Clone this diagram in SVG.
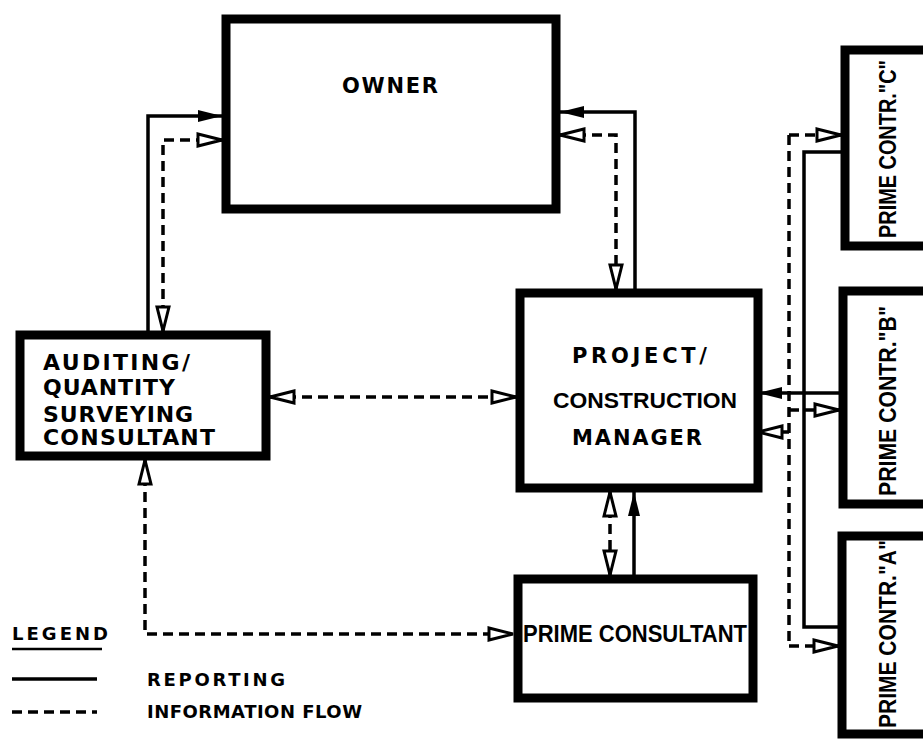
<svg xmlns="http://www.w3.org/2000/svg" width="923" height="739" viewBox="0 0 923 739">
<style>
.box{fill:#fff;stroke:#000;stroke-width:9}
.t{font-family:"DejaVu Sans","Liberation Sans",sans-serif;font-weight:bold;fill:#000}
.n{font-family:"Liberation Sans",Arial,sans-serif;font-weight:bold;fill:#000}
.sol{fill:none;stroke:#000;stroke-width:3.5}
.dsh{fill:none;stroke:#000;stroke-width:3.5;stroke-dasharray:10 6}
</style>
<defs>
<marker id="open" viewBox="0 0 28 16" refX="26" refY="8" markerWidth="28" markerHeight="16" markerUnits="userSpaceOnUse" orient="auto-start-reverse">
<path d="M2,2 L26,8 L2,14 Z" fill="#fff" stroke="#000" stroke-width="3"/>
</marker>
<marker id="fill" viewBox="0 0 24 14" refX="24" refY="7" markerWidth="24" markerHeight="14" markerUnits="userSpaceOnUse" orient="auto-start-reverse">
<path d="M0,1 L24,7 L0,13 Z" fill="#000"/>
</marker>
</defs>

<g id="connectors">
<path class="sol" d="M148,331 V116 H222" marker-end="url(#fill)"/>
<path class="dsh" d="M222,140 H163 V331" marker-start="url(#open)" marker-end="url(#open)"/>
<path class="sol" d="M635,289 V112 H560" marker-end="url(#fill)"/>
<path class="dsh" d="M560,135 H616 V289" marker-start="url(#open)" marker-end="url(#open)"/>
<path class="dsh" d="M270,397 H516" marker-start="url(#open)" marker-end="url(#open)"/>
<path class="dsh" d="M145,460 V634 H513" marker-start="url(#open)" marker-end="url(#open)"/>
<path class="dsh" d="M610,492 V575" marker-start="url(#open)" marker-end="url(#open)"/>
<path class="sol" d="M634,575 V492" marker-end="url(#fill)"/>
<path class="sol" d="M841,152 H804 V627 H838"/>
<path class="sol" d="M839,393 H758" marker-end="url(#fill)"/>
<path class="dsh" d="M789,135 V646"/>
<path class="dsh" d="M789,135 H841" marker-end="url(#open)"/>
<path class="dsh" d="M789,410 H839" marker-end="url(#open)"/>
<path class="dsh" d="M789,646 H838" marker-end="url(#open)"/>
<path class="dsh" d="M789,432 H758" marker-end="url(#open)"/>
</g>

<g id="owner">
<rect class="box" x="226" y="19" width="330" height="190"/>
<text class="t" x="342" y="93" font-size="21" textLength="96" lengthAdjust="spacing">OWNER</text>
</g>

<g id="auditing">
<rect class="box" x="20" y="335" width="246" height="121"/>
<text class="t" font-size="22" x="43" y="370" textLength="147" lengthAdjust="spacing">AUDITING/</text>
<text class="t" font-size="22" x="43" y="395" textLength="132" lengthAdjust="spacing">QUANTITY</text>
<text class="t" font-size="22" x="43" y="422" textLength="150" lengthAdjust="spacing">SURVEYING</text>
<text class="t" font-size="22" x="43" y="445" textLength="172" lengthAdjust="spacing">CONSULTANT</text>
</g>

<g id="pm">
<rect class="box" x="520" y="293" width="238" height="195"/>
<text class="t" font-size="21" x="572" y="363" textLength="135" lengthAdjust="spacing">PROJECT/</text>
<text class="n" font-size="22" x="553" y="408" textLength="184" lengthAdjust="spacingAndGlyphs">CONSTRUCTION</text>
<text class="t" font-size="21" x="572" y="445" textLength="130" lengthAdjust="spacing">MANAGER</text>
</g>

<g id="prime-consultant">
<rect class="box" x="518" y="579" width="235" height="119"/>
<text class="n" font-size="23" x="523" y="642" textLength="224" lengthAdjust="spacingAndGlyphs">PRIME CONSULTANT</text>
</g>

<g id="contr-c">
<rect class="box" x="845" y="50" width="100" height="196"/>
<text class="n" font-size="23" transform="translate(896,238) rotate(-90)" textLength="178" lengthAdjust="spacingAndGlyphs">PRIME CONTR."C"</text>
</g>

<g id="contr-b">
<rect class="box" x="843" y="291" width="100" height="213"/>
<text class="n" font-size="23" transform="translate(896,496) rotate(-90)" textLength="190" lengthAdjust="spacingAndGlyphs">PRIME CONTR."B"</text>
</g>

<g id="contr-a">
<rect class="box" x="842" y="536" width="100" height="198"/>
<text class="n" font-size="23" transform="translate(896,728) rotate(-90)" textLength="188" lengthAdjust="spacingAndGlyphs">PRIME CONTR."A"</text>
</g>

<g id="legend">
<text class="t" font-size="18" x="12" y="640" textLength="96" lengthAdjust="spacing">LEGEND</text>
<path d="M12,649 H102" stroke="#000" stroke-width="2.5"/>
<path class="sol" d="M12,679 H97"/>
<path class="dsh" d="M12,712 H97"/>
<text class="t" font-size="18" x="147" y="686" textLength="138" lengthAdjust="spacing">REPORTING</text>
<text class="t" font-size="18" x="147" y="718" textLength="215" lengthAdjust="spacing">INFORMATION FLOW</text>
</g>
</svg>
